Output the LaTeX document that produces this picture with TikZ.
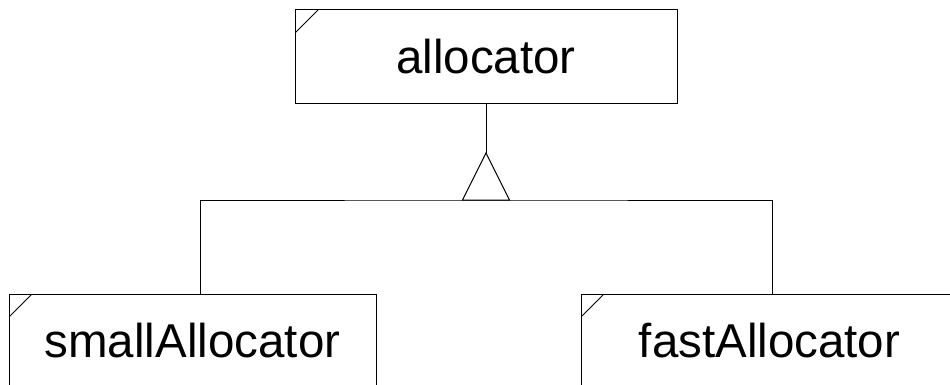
\documentclass[tikz,border=0pt]{standalone}
\usepackage{fontspec}
\setmainfont{Liberation Sans}
\usepackage{tikz}
\usetikzlibrary{positioning}

\begin{document}
\begin{tikzpicture}[x=1pt,y=1pt,line width=1pt,
    classe/.style={draw,black,minimum height=94pt,inner sep=0pt,
        font=\fontsize{47.5}{52}\selectfont,
        path picture={\draw ([yshift=-23pt]path picture bounding box.north west)
            -- ([xshift=23pt]path picture bounding box.north west);}}]

    % Moldura do desenho
    \useasboundingbox (0,0) rectangle (950,-385);
    \clip (0,0) rectangle (950,-385);

    % Classe base
    \node[classe,minimum width=382pt] (alocador) at (486,-57) {allocator};

    % Classes derivadas
    \node[classe,minimum width=367pt] (pequeno) at (192.5,-341) {smallAllocator};
    \node[classe,minimum width=377pt] (rapido) at (769.5,-341) {fastAllocator};

    % Triângulo de herança
    \coordinate (topo) at (486,-153);
    \coordinate (base) at (486,-200);
    \draw (alocador.south) -- (topo);
    \draw (topo) -- ++(-23.5,-47) -- ++(47,0) -- cycle;

    % Ligações às derivadas
    \draw ([xshift=7.5pt]pequeno.north) |- (base) -| ([xshift=2.5pt]rapido.north);

\end{tikzpicture}
\end{document}
